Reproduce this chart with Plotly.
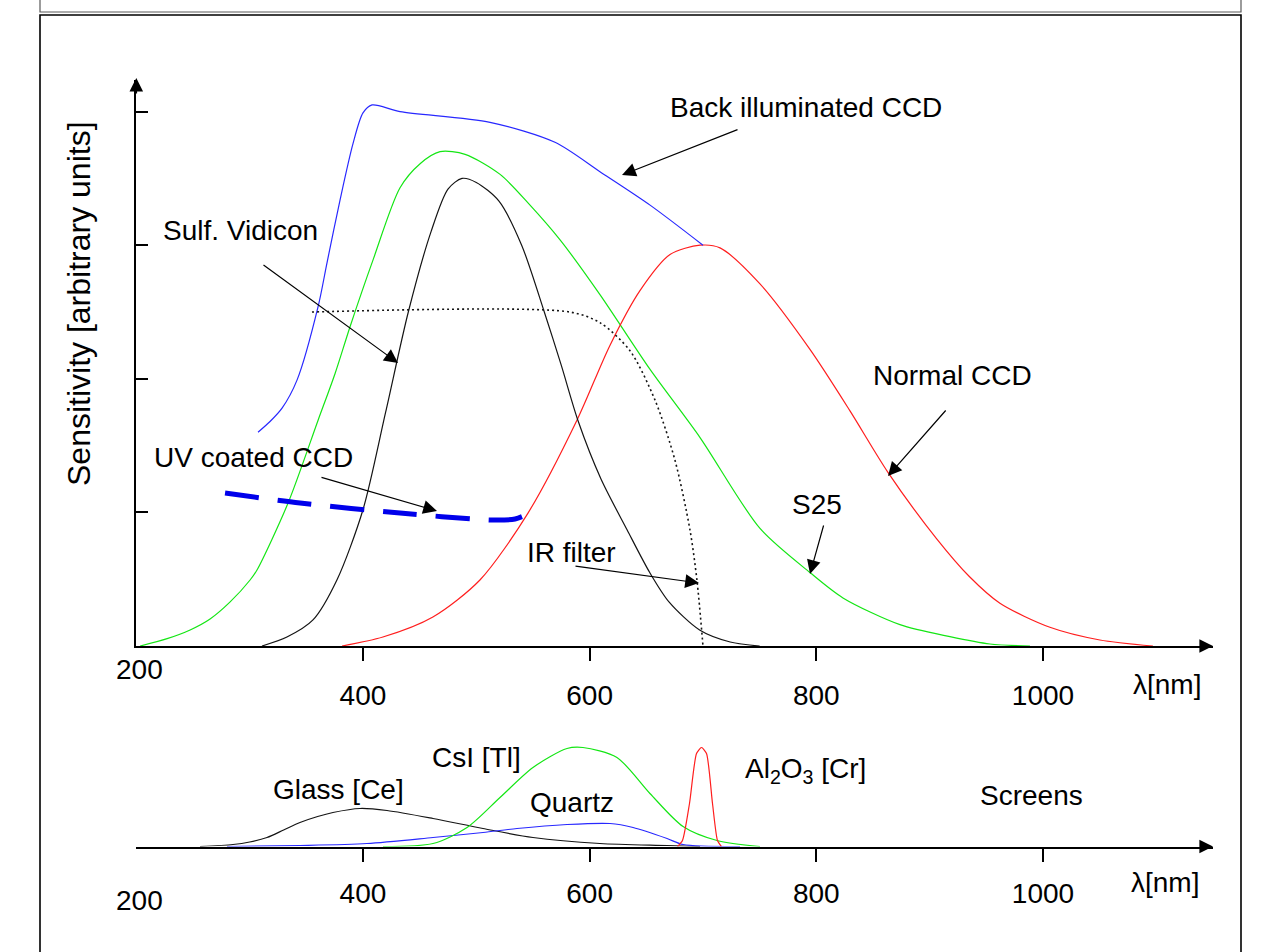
import plotly.graph_objects as go

W, H = 1268, 952
FONT = "Liberation Sans, Arial, sans-serif"

# ---------------- data ----------------
# upper panel: wavelength [nm] / sensitivity [arbitrary units]
back_ccd_nm = [307.4, 318.0, 328.6, 341.8, 360.4, 368.3, 379.8, 391.2, 400.0, 408.0, 432.7, 512.1, 569.4, 609.1, 653.3, 700.0]
back_ccd_s = [1.60, 1.68, 1.78, 1.99, 2.54, 2.87, 3.34, 3.76, 3.99, 4.05, 4.00, 3.92, 3.77, 3.55, 3.30, 3.00]

s25_nm = [203.4, 227.2, 247.5, 265.1, 282.8, 300.4, 306.5, 333.9, 360.4, 375.4, 388.6, 408.9, 432.7, 450.4, 468.0,
          490.1, 521.0, 547.4, 573.9, 609.1, 653.3, 697.4, 750.3, 794.4, 823.5, 873.8, 917.9, 953.2, 988.5]
s25_s = [0.0, 0.055, 0.120, 0.202, 0.330, 0.494, 0.569, 1.07, 1.69, 2.04, 2.39, 2.89, 3.43, 3.61, 3.70,
         3.68, 3.53, 3.30, 3.04, 2.63, 2.07, 1.56, 0.88, 0.55, 0.36, 0.16, 0.07, 0.015, 0.0]

vidicon_nm = [310.9, 332.9, 355.9, 377.0, 400.0, 420.0, 440.0, 460.0, 475.0, 487.4, 500.0, 520.0, 540.0,
              560.0, 575.0, 590.0, 610.0, 633.0, 653.0, 670.0, 697.0, 724.0, 750.0]
vidicon_s = [0.0, 0.067, 0.195, 0.494, 1.02, 1.75, 2.50, 3.10, 3.42, 3.50, 3.47, 3.33, 3.00,
             2.50, 2.10, 1.68, 1.25, 0.87, 0.55, 0.33, 0.12, 0.03, 0.0]

normal_ccd_nm = [381.5, 417.6, 461.7, 503.2, 545.6, 588.8, 617.9, 644.4, 670.9, 697.4, 715.0, 750.3, 794.4,
                 829.7, 863.2, 906.4, 935.0, 962.0, 1006.1, 1050.2, 1097.0]
normal_ccd_s = [0.0, 0.067, 0.217, 0.494, 0.995, 1.69, 2.25, 2.66, 2.93, 3.00, 2.98, 2.71, 2.22,
                1.76, 1.30, 0.80, 0.52, 0.32, 0.14, 0.045, 0.0]

ir_filter_nm = [355.0, 582.6, 609.1, 635.6, 657.7, 675.3, 688.5, 694.7, 700.0]
ir_filter_s = [2.50, 2.50, 2.42, 2.21, 1.84, 1.39, 0.87, 0.49, 0.0]

uv_ccd_nm = [278.3, 344.5, 432.7, 514.8, 534.2, 547.4]
uv_ccd_s = [1.145, 1.07, 0.995, 0.943, 0.951, 0.995]

# lower panel: screens emission
glass_nm = [256.2, 285.3, 300.0, 315.3, 330.0, 344.4, 360.0, 373.5, 397.4, 421.2, 461.8, 505.9, 550.0, 609.1, 668.3, 697.4]
glass_v = [0.0, 0.02, 0.045, 0.09, 0.165, 0.24, 0.30, 0.34, 0.38, 0.36, 0.28, 0.18, 0.09, 0.03, 0.01, 0.0]

quartz_nm = [280.0, 344.4, 403.5, 461.8, 505.9, 535.9, 580.0, 618.0, 638.3, 668.3, 682.4, 732.7]
quartz_v = [0.0, 0.01, 0.03, 0.09, 0.14, 0.18, 0.22, 0.23, 0.19, 0.08, 0.02, 0.0]

csi_nm = [417.7, 461.8, 491.8, 520.9, 550.0, 580.0, 594.1, 624.1, 653.2, 682.4, 712.4, 750.3]
csi_v = [0.0, 0.03, 0.19, 0.49, 0.79, 0.98, 0.99, 0.89, 0.53, 0.20, 0.06, 0.0]

al2o3_nm = [677.5, 681.9, 688.1, 694.3, 698.7, 703.1, 708.4, 712.8, 716.3]
al2o3_v = [0.0, 0.06, 0.43, 0.93, 0.99, 0.93, 0.43, 0.06, 0.0]

x_tickvals = [400, 600, 800, 1000]
x_ticktext = ["400", "600", "800", "1000"]
y_tickvals = [1, 2, 3, 4]

# ---------------- geometry helpers ----------------
def px(x):
    return x / W

def py(y):
    return 1 - y / H

X0, X1 = 136.3, 1213.0
XR = [200, 1150]

fig = go.Figure()

BLUE = "rgb(40,40,255)"
GREEN = "rgb(20,230,20)"
RED = "rgb(255,30,30)"
BLACK = "rgb(20,20,20)"

def curve(x, y, color, width=1.2, dash=None, axes=("x", "y"), smooth=0.8):
    fig.add_trace(go.Scatter(
        x=x, y=y, mode="lines", xaxis=axes[0], yaxis=axes[1],
        line=dict(color=color, width=width, dash=dash, shape="spline", smoothing=smooth),
        hoverinfo="skip", showlegend=False))

curve(s25_nm, s25_s, GREEN)
curve(normal_ccd_nm, normal_ccd_s, RED)
curve(vidicon_nm, vidicon_s, BLACK)
curve(back_ccd_nm, back_ccd_s, BLUE)
curve(ir_filter_nm, ir_filter_s, BLACK, width=1.6, dash="2px,3px")
curve(uv_ccd_nm, uv_ccd_s, "rgb(0,0,235)", width=5, dash="34px,19px")

curve(glass_nm, glass_v, BLACK, axes=("x2", "y2"))
curve(quartz_nm, quartz_v, BLUE, axes=("x2", "y2"))
curve(csi_nm, csi_v, GREEN, axes=("x2", "y2"))
curve(al2o3_nm, al2o3_v, RED, axes=("x2", "y2"), smooth=0.6)

# axes geometry
UP_AX = 646.0
UP_TOP = 80.0
UNIT = 133.6
LOW_AX = 846.5
LOW_TOP = 730.0

tickfont = dict(family=FONT, size=28, color="black")
fig.update_layout(
    width=W, height=H, autosize=False,
    margin=dict(l=0, r=0, t=0, b=0),
    paper_bgcolor="white", plot_bgcolor="rgba(0,0,0,0)",
    xaxis=dict(domain=[px(X0), px(X1)], range=XR, anchor="y",
               showline=True, linecolor="black", linewidth=1.6,
               showgrid=False, zeroline=False,
               ticks="outside", ticklen=13, tickwidth=1.5, tickcolor="black",
               tickvals=x_tickvals, ticktext=x_ticktext, tickfont=tickfont,
               ticklabelstandoff=11),
    yaxis=dict(domain=[py(UP_AX), py(UP_TOP)], range=[0, (UP_AX - UP_TOP) / UNIT], anchor="x",
               showline=True, linecolor="black", linewidth=1.6,
               showgrid=False, zeroline=False,
               ticks="inside", ticklen=12, tickwidth=1.5, tickcolor="black",
               tickvals=y_tickvals, showticklabels=False),
    xaxis2=dict(domain=[px(X0), px(X1)], range=XR, anchor="y2",
                showline=True, linecolor="black", linewidth=1.6,
                showgrid=False, zeroline=False,
                ticks="outside", ticklen=14, tickwidth=1.5, tickcolor="black",
                tickvals=x_tickvals, ticktext=x_ticktext, tickfont=tickfont,
                ticklabelstandoff=7),
    yaxis2=dict(domain=[py(LOW_AX), py(LOW_TOP)], range=[0, (LOW_AX - LOW_TOP) / 100.0], anchor="x2",
                visible=False),
)

ann = []

def text(t, x, y, size=28, angle=0):
    ann.append(dict(text=t, x=px(x), y=py(y), xref="paper", yref="paper",
                    xanchor="center", yanchor="middle", showarrow=False,
                    textangle=angle, font=dict(family=FONT, size=size, color="black")))

def arrow(tail, head, xref="x", yref="y", width=1.2, size=2.3):
    ann.append(dict(text="", x=head[0], y=head[1], ax=tail[0], ay=tail[1],
                    xref=xref, yref=yref, axref=xref, ayref=yref,
                    showarrow=True, arrowhead=2, arrowsize=size, arrowwidth=width,
                    arrowcolor="black", standoff=0, startstandoff=0))

def nm(x):
    return 200 + (x - X0) / ((X1 - X0) / (XR[1] - XR[0]))

def su(y):
    return (UP_AX - y) / UNIT

# axis arrowheads
arrow((nm(1200), 0), (nm(1213), 0), width=1.6, size=1.7)
arrow((nm(X0), su(95)), (nm(X0), su(78)), width=1.6, size=1.7)
arrow((nm(1200), 0), (nm(1213), 0), xref="x2", yref="y2", width=1.6, size=1.7)

# label arrows (upper)
arrow((nm(739), su(129)), (nm(622), su(175)))
arrow((nm(262), su(264)), (nm(398), su(363)))
arrow((nm(320), su(477)), (nm(437), su(511)))
arrow((nm(947), su(409)), (nm(888), su(476)))
arrow((nm(824), su(524)), (nm(810), su(574)))
arrow((nm(574), su(566)), (nm(699), su(583)))

# labels
text("Back illuminated CCD", 806, 107)
text("Sulf. Vidicon", 240, 230)
text("UV coated CCD", 253, 457)
text("Normal CCD", 952, 376)
text("S25", 817, 504)
text("IR filter", 571, 552)
text("Sensitivity [arbitrary units]", 79, 304, size=32, angle=-90)
text("200", 139, 669)
text("\u03bb[nm]", 1167, 684)

text("Glass [Ce]", 338, 789)
text("CsI [Tl]", 476, 757)
text("Quartz", 572, 802)
text("Al<sub>2</sub>O<sub>3</sub> [Cr]", 805, 770)
text("Screens", 1031, 795)
text("200", 139, 900)
text("\u03bb[nm]", 1165, 882)

fig.update_layout(annotations=ann)

# frames
fig.add_shape(type="rect", xref="paper", yref="paper", x0=px(40), x1=px(1241), y0=py(960), y1=py(15),
              line=dict(color="black", width=1.6), fillcolor="rgba(0,0,0,0)", layer="below")
fig.add_shape(type="rect", xref="paper", yref="paper", x0=px(40), x1=px(1241), y0=py(12), y1=py(-5),
              line=dict(color="rgb(90,90,90)", width=1.2), fillcolor="rgba(0,0,0,0)", layer="below")

fig.write_html("out.html")
